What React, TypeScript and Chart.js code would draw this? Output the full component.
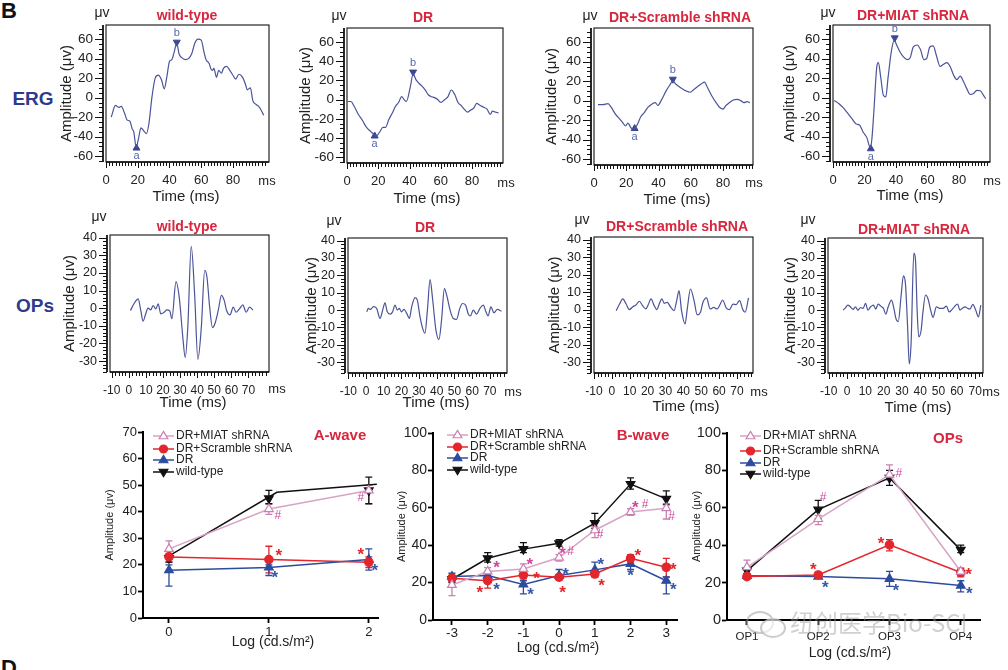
import React, { useEffect, useRef } from "react";
import { Chart, registerables } from "chart.js";

Chart.register(...registerables);
const FONT = "'Liberation Sans', Arial, Helvetica, sans-serif";
Chart.defaults.font.family = FONT;
Chart.defaults.color = "#222";

// ---------------- ERG traces: [time (ms), amplitude (µV)] ----------------
const ergWildType = [[3.3,-20],[6,-8],[8,-10],[9.6,-9],[11.7,-16],[13.3,-23],[15,-24],[16.5,-32],[17.5,-35],[19,-51],[20.6,-41],[22,-31],[23.8,-34],[25.4,-37],[27,-27],[29,1],[31,20],[33,23],[35,18],[36.7,9],[38.3,21],[40,37],[41.5,39],[43,47],[44.6,56],[46,45],[47.7,41],[50,39],[52,40],[54,45],[56,56],[58,60],[60,59],[61.7,47],[63,39],[65,35],[66,30],[67,28],[68,30],[69.6,21],[71,28],[72.7,25],[74,30],[76,32],[78,28],[80,23],[81.7,19],[83.7,24],[86,21],[88,13],[89,8],[91,10],[92.5,-3],[94.6,-7],[96.7,-10],[99.4,-18]];
const ergDR = [[0.6,-2],[2.5,-2],[4.6,-7],[7.3,-15.5],[10,-22],[12.5,-29],[15,-33],[17,-36],[18.75,-38],[20.8,-34],[23,-29],[24.6,-29],[26.7,-21],[29,-14],[31,-7],[33,-3],[35,3],[36.5,0],[38,-2],[40.6,14],[42.3,27],[44,21],[46,17],[48,14],[50,10],[52,5],[54,3],[56,2],[58,0],[60,-3],[62.5,0],[64.6,3],[66.7,10],[69,5],[71,-3],[73,-6],[75,-10],[77,-13],[79,-11],[81,-9],[83,-4],[85,-6],[87.5,-8],[89.6,-10],[91.7,-15.5],[93,-12],[95,-13],[97,-14]];
const ergScramble = [[2.5,-4],[5.6,-4],[8.7,-3],[10.7,-7],[13.4,-14],[16,-19],[18,-23],[19.6,-26],[21,-23],[23,-28],[24.7,-29],[27,-24],[29,-16.5],[31.3,-12],[33.4,-7],[36,-3.5],[38,-2],[39.6,-5],[41.6,0],[44.7,10],[46.8,15.5],[48.9,20],[51,16.5],[54,13],[57,10],[59.6,8.6],[61.6,11],[64.3,14.5],[66.4,17],[68.5,19],[70.5,13],[73,5],[75.7,-2],[78,-7],[80,-8.6],[81.8,-5],[84,-2],[86.4,0.7],[89,1.4],[91,0],[93,-2],[95,-1],[96.7,-2]];
const ergMiat = [[0.8,-3],[3.6,-6],[6.3,-10],[9.3,-16],[12,-21.5],[14.7,-27],[16.8,-28],[19,-35],[21.5,-41],[23.6,-51],[24.6,-44],[26,-13],[27.8,31.5],[28.8,36],[30.3,21],[32,2.4],[33.5,0.7],[35,21],[37,47],[38.9,59],[40.4,54],[42.5,47],[44.6,42],[47,39],[49,41],[51,52],[53.5,54],[55.6,49],[57.7,39],[59.4,40],[61.5,52],[63.6,53],[65.7,43],[68,32],[70,34],[72.4,36],[74.5,31.5],[76.6,23],[78.7,18.5],[80.8,22],[83,16],[85,9],[87,3.4],[89,4],[91.4,7.5],[93.5,7],[95.6,2.4],[97,-1]];

// a-wave / b-wave marker positions [time, amplitude]
const ergWildTypeAB = [[19.2,-51.7],[44.6,56.9]];
const ergDRAB = [[17.7,-37.9],[42.3,28.6]];
const ergScrambleAB = [[25.2,-28.6],[48.9,22]];
const ergMiatAB = [[24,-52.4],[39.2,61.3]];

// ---------------- OP traces ----------------
const opWildType = [[1,-1.3],[3,2.5],[5.5,5.3],[7,-1.3],[8.3,-7.4],[9.9,-3.2],[11.2,0],[12.8,-1],[14.2,1.5],[15.8,-0.4],[17.2,2.5],[18.7,-3.2],[20.7,-2.3],[22.3,-1],[24,-1.7],[25.2,-6],[27.6,15],[29.6,5.3],[31.6,-16.6],[33,-28],[34.5,-11],[36.5,35],[38.5,8],[40.4,-29],[42.4,-11],[44.4,21.5],[45.7,17.7],[47.3,0.6],[48.9,-11],[50.3,-9],[52.3,-1.3],[54.2,7.3],[55.8,4.4],[57.2,-1.3],[59.2,-3.8],[61.1,0.6],[62.7,-2.3],[64.7,-0.4],[66.7,1.9],[68.6,-2.3],[70.6,0.6],[72.6,-1]];
const opDR = [[0.4,-1],[1.3,1],[2.6,0.4],[4.1,2],[6,1],[7.9,-4.8],[9.4,0],[10.7,4.2],[12,-1],[13.6,-2.3],[15,-1],[16.4,2.9],[17.7,0],[18.8,1],[20,-1],[21.5,0.4],[23,-1.9],[24.5,-4.8],[25.8,1.9],[27.7,7.2],[29,5.7],[30.5,-3.8],[32,-10.5],[33.3,-13.3],[34.7,0],[36.2,17.5],[37.7,5.7],[39.5,-11.4],[41.2,-17],[42.7,-5.7],[44.3,12.4],[45.6,8.6],[47.5,0],[49.3,-4.8],[51.2,-5.3],[53,1],[54.6,3.8],[56.3,2.9],[57.8,-2.3],[59,-3.4],[60.6,0],[62.5,-2.3],[64.4,1],[66.3,2.9],[67.8,-1],[69,-3.4],[70.6,1.9],[72.3,-1.5],[74.2,0.4],[76.6,-0.6]];
const opScramble = [[2.4,-0.6],[4.3,3.2],[6.1,6.1],[8,3.2],[9.8,0],[11.7,1.7],[13.5,2.7],[15.4,4.8],[17.2,2.3],[19,0.4],[20.4,2.9],[21.9,6.1],[23.7,2.3],[25.2,0],[26.5,3.2],[28,6.1],[29.3,3.6],[31,4.2],[33,1.3],[34.8,-0.6],[36.3,5.2],[37.6,10.9],[39,-0.6],[41,-8.2],[42.2,0.4],[44,11.8],[46,5.2],[47.8,-3],[49.6,-1.5],[51,4.2],[53,6.7],[55,0.4],[57,1.3],[58.9,0.4],[60.7,3.2],[62,5.5],[64,1],[65.9,0],[67.8,3.2],[69.6,2.9],[71.5,5.2],[73.3,0],[74.6,-1.5],[76.5,6.7]];
const opMiat = [[-2.2,0],[-0.9,1.3],[0.4,2.9],[1.8,1.9],[3.3,0.4],[4.6,1.9],[5.9,0],[7.4,1.5],[8.8,1],[10.1,3.9],[11.4,0],[12.9,1.9],[14.4,2.9],[15.7,0.6],[17,3.5],[18.4,2.3],[19.9,1],[21.2,-2.3],[22.5,1.9],[24.3,5.8],[25.8,0],[26.7,-4.8],[28,-6.7],[29.5,7.7],[30.8,19.7],[31.9,15.4],[33.1,-9.6],[34,-31],[35,-19],[36.5,32.8],[37.4,28.9],[38.3,0],[39.2,-15.4],[40.5,-11.6],[41.4,-1.9],[42.9,8.7],[44.2,6.7],[45.7,0],[47,-4.2],[48.8,1.9],[50.6,1],[52.5,1],[54.3,2.3],[55.8,-1],[57.1,0],[58.6,1.9],[60.4,3.5],[61.7,0],[63,1],[64.5,1.9],[65.9,1],[67.2,0.6],[68.7,3.3],[70.3,0],[71.8,-3.9],[73.1,2.9]];

// ---------------- Summary: A-wave ----------------
const aWaveX = [0, 1, 2];
const aWaveMiat = [26, 41, 48];
const aWaveMiatHi = [29, 43, 50];
const aWaveMiatLo = [23, 39, 43];
const aWaveScr = [23, 22, 21];
const aWaveScrHi = [25, 27, 23];
const aWaveScrLo = [21, 17, 19];
const aWaveDR = [18, 19, 22];
const aWaveDRHi = [20, 20, 26];
const aWaveDRLo = [12, 16, 18];
const aWaveWT = [22.5, 45, 48];
const aWaveWTHi = [24, 48, 53];
const aWaveWTLo = [21, 43, 43];
const aWaveWTLineX = [0.03, 1.08, 2.08];
const aWaveWTLineY = [24, 47.3, 50.3];

// ---------------- Summary: B-wave ----------------
const bWaveX = [-3, -2, -1, 0, 1, 2, 3];
const bWaveMiat = [18.75, 26, 27.3, 33.4, 48, 57.7, 59.8];
const bWaveMiatHi = [20.5, 28, 30, 35, 50, 59.5, 61.5];
const bWaveMiatLo = [13, 24, 25.5, 31.5, 44, 56, 54];
const bWaveScr = [22.3, 21, 24, 22.9, 24.6, 33, 28.2];
const bWaveScrHi = [24, 23, 26, 24, 26, 35, 33];
const bWaveScrLo = [20.5, 17, 22, 21.5, 23, 31, 23];
const bWaveDR = [23.2, 23.75, 19, 23.75, 26.8, 30, 21];
const bWaveDRHi = [25, 26, 21, 27, 31, 32, 23];
const bWaveDRLo = [21.5, 21.5, 14, 22, 25, 27, 14];
const bWaveWT = [21.8, 33, 37.9, 41, 51.8, 72.7, 64.8];
const bWaveWTHi = [23.5, 36, 41.4, 43, 57, 76, 69];
const bWaveWTLo = [20, 31, 36, 39.5, 49, 70, 62];

// ---------------- Summary: OPs ----------------
const opsX = [1, 2, 3, 4];
const opsLabels = ["OP1", "OP2", "OP3", "OP4"];
const opsMiat = [28.2, 54, 77.7, 25.9];
const opsMiatHi = [32, 56, 83, 28];
const opsMiatLo = [25, 51, 75, 23];
const opsScr = [23.2, 24.1, 40.2, 25.4];
const opsScrHi = [24.5, 25.5, 43, 27.5];
const opsScrLo = [22, 23, 37, 23.5];
const opsDR = [23.6, 23.2, 22, 18.4];
const opsDRHi = [24.5, 24, 26, 21];
const opsDRLo = [22.5, 22.5, 18, 15];
const opsWT = [26.4, 59, 76, 37.5];
const opsWTHi = [28, 64, 80, 40];
const opsWTLo = [24.5, 54, 72, 36];

// significance marks: [x, y (glyph centre), text, colour key]
const aWaveMarks = [[1.09,38.8,"#","p"],[1.92,45.5,"#","p"],[1.1,25,"*","r"],[1.92,25.3,"*","r"],[1.06,16.7,"*","b"],[2.06,19.5,"*","b"]];
const bWaveMarks = [[-1.75,30.4,"*","p"],[-2.22,17,"*","r"],[-1.75,18.75,"*","b"],[-0.82,32.1,"*","p"],[-0.63,24.6,"*","r"],[-0.8,16.1,"*","b"],[0.1,37.9,"*","p"],[0.32,37.1,"#","p"],[0.18,26.4,"*","b"],[0.1,17,"*","r"],[1.15,46.4,"#","p"],[1.17,31.8,"*","b"],[1.19,20.5,"*","r"],[2.13,62.5,"*","p"],[2.41,62.1,"#","p"],[2.2,37,"*","r"],[2.0,25.9,"*","b"],[3.15,55.7,"#","p"],[3.2,29.1,"*","r"],[3.2,18.75,"*","b"]];
const opsMarks = [[2.07,66,"#","p"],[1.93,29.1,"*","r"],[2.1,19.6,"*","b"],[3.13,78.9,"#","p"],[2.88,42.9,"*","r"],[3.09,17.9,"*","b"],[4.11,26.4,"*","r"],[4.12,16.4,"*","b"]];

const legendLabels = ["DR+MIAT shRNA", "DR+Scramble shRNA", "DR", "wild-type"];

// ---------------- styles ----------------
const TRACE_COLOR = "#4b5499";
const AB_COLOR = "#3a4793";
const TITLE_RED = "#d7263d";
const ROW_BLUE = "#2e3a8c";
const TEXT = "#222";
const MARK_COLORS: any = { p: "#d0479a", r: "#e3262b", b: "#3557a8" };
const STYLES = [
  { line: "#d9a3c6", kind: "tri", fill: "#ffffff", stroke: "#cc80b2" },
  { line: "#e3262b", kind: "circle", fill: "#e3262b", stroke: "#e3262b" },
  { line: "#2e4c9e", kind: "tri", fill: "#2e4c9e", stroke: "#2e4c9e" },
  { line: "#111111", kind: "triDown", fill: "#111111", stroke: "#111111" },
];

// ---------------- helpers ----------------
function rangeTicks(min: number, max: number, step: number) {
  const out: any[] = [];
  const s = Math.ceil(min / step - 1e-9);
  const e = Math.floor(max / step + 1e-9);
  for (let i = s; i <= e; i++) out.push({ value: +(i * step).toFixed(6) });
  return out;
}
const isMult = (v: number, m: number) => Math.abs(v / m - Math.round(v / m)) < 1e-6;

function drawMarker(ctx: any, kind: string, x: number, y: number, r: number, fill: string, stroke: string, lw: number) {
  ctx.beginPath();
  if (kind === "circle") ctx.arc(x, y, r, 0, Math.PI * 2);
  else {
    const s = kind === "triDown" ? -1 : 1;
    ctx.moveTo(x, y - s * r);
    ctx.lineTo(x + r * 0.95, y + s * r * 0.6);
    ctx.lineTo(x - r * 0.95, y + s * r * 0.6);
    ctx.closePath();
  }
  ctx.fillStyle = fill;
  ctx.fill();
  ctx.lineWidth = lw;
  ctx.strokeStyle = stroke;
  ctx.stroke();
}

function txt(ctx: any, t: string, x: number, y: number, font: string, color: string, align = "center", base = "middle") {
  ctx.font = font;
  ctx.fillStyle = color;
  ctx.textAlign = align;
  ctx.textBaseline = base;
  ctx.fillText(t, x, y);
}

function layoutFor(cv: any, area: any, ampX: number, ampLH: number) {
  const padL = ampX - ampLH / 2 - cv.x;
  const yW = area.l - cv.x - padL;
  const xH = cv.y + cv.h - area.b;
  return {
    padding: { left: padL, right: cv.x + cv.w - area.r, top: area.t - cv.y, bottom: 0 },
    yW,
    xH,
  };
}

// ---------------- trace panels ----------------
const ERG_G = { xMajor: 20, xMinor: 2, xTickMin: 0, xTickMax: 100, xLabelMin: 0, xLabelMax: 80, yMajor: 20, yMinor: 5, yLabelMin: -60, yLabelMax: 60, yMin: -66, yMax: 74.5, xFont: 13, yFont: 13.5, xPad: 11, yPad: 13 };
const OP_G = { xMajor: 10, xMinor: 2, xTickMin: -10, xTickMax: 80, xLabelMin: -10, xLabelMax: 70, yMajor: 10, yMinor: 2, yLabelMin: -30, yLabelMax: 40, yMin: -36.2, yMax: 41.5, xFont: 12, yFont: 12.5, xPad: 11, yPad: 13 };

const ergPanels = [
  { title: "wild-type", trace: ergWildType, ab: ergWildTypeAB, cv: { x: 50, y: 0, w: 230, h: 210 }, area: { l: 106, t: 25, r: 269, b: 162 }, xMin: 0, xMax: 102.7, ampX: 67, timePos: [186, 197], titlePos: [187, 16], muPos: [102, 13], msPos: [267, 181] },
  { title: "DR", trace: ergDR, ab: ergDRAB, cv: { x: 290, y: 0, w: 232, h: 212 }, area: { l: 347, t: 28, r: 503, b: 163 }, xMin: 0, xMax: 99.8, ampX: 306, timePos: [427, 199], titlePos: [423, 18], muPos: [339, 16], msPos: [506, 183] },
  { title: "DR+Scramble shRNA", trace: ergScramble, ab: ergScrambleAB, cv: { x: 535, y: 0, w: 235, h: 212 }, area: { l: 594, t: 28, r: 753, b: 165 }, xMin: 0, xMax: 98.6, ampX: 552, timePos: [677, 200], titlePos: [680, 18], muPos: [590, 16], msPos: [754, 183] },
  { title: "DR+MIAT shRNA", trace: ergMiat, ab: ergMiatAB, cv: { x: 775, y: 0, w: 233, h: 212 }, area: { l: 833, t: 25, r: 990, b: 162 }, xMin: 0, xMax: 99.7, ampX: 790, timePos: [910, 196], titlePos: [913, 16], muPos: [828, 13], msPos: [992, 181] },
];
const opPanels = [
  { title: "wild-type", trace: opWildType, cv: { x: 50, y: 212, w: 240, h: 203 }, area: { l: 110, t: 235, r: 269, b: 372 }, xMin: -11, xMax: 82, ampX: 70, timePos: [193, 403], titlePos: [187, 227], muPos: [99, 217], msPos: [277, 389] },
  { title: "DR", trace: opDR, cv: { x: 290, y: 212, w: 235, h: 203 }, area: { l: 348, t: 238, r: 507, b: 373 }, xMin: -10.2, xMax: 79.7, ampX: 312, timePos: [436, 403], titlePos: [425, 228], muPos: [334, 221], msPos: [513, 392] },
  { title: "DR+Scramble shRNA", trace: opScramble, cv: { x: 535, y: 212, w: 235, h: 208 }, area: { l: 594, t: 237, r: 753, b: 373 }, xMin: -10, xMax: 79, ampX: 555, timePos: [686, 407], titlePos: [677, 227], muPos: [582, 220], msPos: [759, 392] },
  { title: "DR+MIAT shRNA", trace: opMiat, cv: { x: 775, y: 212, w: 233, h: 208 }, area: { l: 828, t: 238, r: 983, b: 373 }, xMin: -10.4, xMax: 74.3, ampX: 791, timePos: [918, 408], titlePos: [914, 230], muPos: [808, 220], msPos: [991, 392] },
];

function traceConfig(p: any, g: any) {
  const L = layoutFor(p.cv, p.area, p.ampX, 18);
  const xLab = (v: number) => isMult(v, g.xMajor) && v >= g.xLabelMin - 1e-9 && v <= g.xLabelMax + 1e-9;
  const yLab = (v: number) => isMult(v, g.yMajor) && v >= g.yLabelMin - 1e-9 && v <= g.yLabelMax + 1e-9;
  const datasets: any[] = [
    { data: p.trace.map((d: number[]) => ({ x: d[0], y: d[1] })), borderColor: TRACE_COLOR, borderWidth: 1.2, pointRadius: 0, cubicInterpolationMode: "monotone", fill: false },
  ];
  if (p.ab) {
    datasets.push({ data: [{ x: p.ab[0][0], y: p.ab[0][1] }], showLine: false, pointStyle: "triangle", pointRotation: 0, pointRadius: 4, pointBackgroundColor: AB_COLOR, pointBorderColor: AB_COLOR });
    datasets.push({ data: [{ x: p.ab[1][0], y: p.ab[1][1] }], showLine: false, pointStyle: "triangle", pointRotation: 180, pointRadius: 4, pointBackgroundColor: AB_COLOR, pointBorderColor: AB_COLOR });
  }
  const plugin = {
    id: "tracePanel",
    afterDraw(chart: any) {
      const { ctx, chartArea: a, scales } = chart;
      const xs = scales.x, ys = scales.y;
      ctx.save();
      ctx.strokeStyle = "#111";
      ctx.lineWidth = 1.1;
      ctx.strokeRect(a.left, a.top, a.right - a.left, a.bottom - a.top);
      const sx = a.left - 3;
      ctx.lineWidth = 1.8;
      ctx.beginPath(); ctx.moveTo(sx, a.top); ctx.lineTo(sx, a.bottom); ctx.stroke();
      ctx.lineWidth = 1.5;
      ctx.beginPath(); ctx.moveTo(a.left, a.bottom); ctx.lineTo(a.right, a.bottom); ctx.stroke();
      ctx.lineWidth = 1;
      ctx.beginPath();
      for (const t of ys.ticks) {
        const py = Math.round(ys.getPixelForValue(t.value)) + 0.5;
        const len = yLab(t.value) ? 8 : 4;
        ctx.moveTo(sx - len, py); ctx.lineTo(sx, py);
      }
      for (const t of xs.ticks) {
        const px = Math.round(xs.getPixelForValue(t.value)) + 0.5;
        const len = xLab(t.value) ? 6 : 4;
        ctx.moveTo(px, a.bottom); ctx.lineTo(px, a.bottom + len);
      }
      ctx.stroke();
      const ox = p.cv.x, oy = p.cv.y;
      txt(ctx, p.title, p.titlePos[0] - ox, p.titlePos[1] - oy, `bold 14px ${FONT}`, TITLE_RED);
      txt(ctx, "μv", p.muPos[0] - ox, p.muPos[1] - oy, `14px ${FONT}`, TEXT);
      txt(ctx, "ms", p.msPos[0] - ox, p.msPos[1] - oy, `13px ${FONT}`, TEXT);
      txt(ctx, "Time (ms)", p.timePos[0] - ox, p.timePos[1] - oy, `15px ${FONT}`, TEXT);
      if (p.ab) {
        const ma = chart.getDatasetMeta(1).data[0];
        const mb = chart.getDatasetMeta(2).data[0];
        txt(ctx, "a", ma.x, ma.y + 8, `11px ${FONT}`, "#5b67ad");
        txt(ctx, "b", mb.x, mb.y - 9, `11px ${FONT}`, "#5b67ad");
      }
      ctx.restore();
    },
  };
  return {
    type: "line",
    data: { datasets },
    options: {
      animation: false, responsive: false, maintainAspectRatio: false, devicePixelRatio: 1, events: [],
      layout: { padding: L.padding },
      plugins: { legend: { display: false }, tooltip: { enabled: false }, title: { display: false } },
      scales: {
        x: {
          type: "linear", min: p.xMin, max: p.xMax,
          afterBuildTicks: (s: any) => { s.ticks = rangeTicks(Math.max(p.xMin, g.xTickMin), Math.min(p.xMax, g.xTickMax), g.xMinor); },
          afterFit: (s: any) => { s.height = L.xH; },
          ticks: { autoSkip: false, maxRotation: 0, padding: g.xPad, font: { size: g.xFont }, color: TEXT, callback: (v: number) => (xLab(v) ? String(v) : "") },
          grid: { display: true, drawOnChartArea: false, drawTicks: false },
          border: { display: false },
          title: { display: false },
        },
        y: {
          type: "linear", min: g.yMin, max: g.yMax,
          afterBuildTicks: (s: any) => { s.ticks = rangeTicks(g.yMin, g.yMax, g.yMinor); },
          afterFit: (s: any) => { s.width = L.yW; },
          ticks: { autoSkip: false, padding: g.yPad, font: { size: g.yFont }, color: TEXT, callback: (v: number) => (yLab(v) ? String(v) : "") },
          grid: { display: true, drawOnChartArea: false, drawTicks: false },
          border: { display: false },
          title: { display: true, text: "Amplitude (μv)", font: { size: 15 }, color: TEXT, padding: 0 },
        },
      },
    },
    plugins: [plugin],
  };
}

// ---------------- summary panels ----------------
const summaryPanels = [
  {
    key: "a", title: "A-wave", titlePos: [340, 436], cv: { x: 95, y: 420, w: 290, h: 240 }, area: { l: 143, t: 432, r: 379, b: 618 },
    ampX: 110, xTitlePos: [273, 642], xMin: -0.26, xMax: 2.1, xTicks: aWaveX, xLabels: null as any, yMax: 70, yStep: 10, yFont: 13, xFont: 13, xPad: 1.5,
    legendX: 153, legendRows: [436, 449, 460, 472], x: aWaveX,
    series: [[aWaveMiat, aWaveMiatHi, aWaveMiatLo], [aWaveScr, aWaveScrHi, aWaveScrLo], [aWaveDR, aWaveDRHi, aWaveDRLo], [aWaveWT, aWaveWTHi, aWaveWTLo]],
    wtLine: [aWaveWTLineX, aWaveWTLineY], marks: aWaveMarks,
  },
  {
    key: "b", title: "B-wave", titlePos: [643, 436], cv: { x: 385, y: 420, w: 300, h: 245 }, area: { l: 433, t: 433, r: 677, b: 620 },
    ampX: 402, xTitlePos: [558, 648], xMin: -3.53, xMax: 3.3, xTicks: bWaveX, xLabels: null as any, yMax: 100, yStep: 20, yFont: 14, xFont: 13.5, xPad: 0.5,
    legendX: 447, legendRows: [435, 447, 458, 470], x: bWaveX,
    series: [[bWaveMiat, bWaveMiatHi, bWaveMiatLo], [bWaveScr, bWaveScrHi, bWaveScrLo], [bWaveDR, bWaveDRHi, bWaveDRLo], [bWaveWT, bWaveWTHi, bWaveWTLo]],
    wtLine: null as any, marks: bWaveMarks,
  },
  {
    key: "o", title: "OPs", titlePos: [948, 439], cv: { x: 688, y: 420, w: 318, h: 250 }, area: { l: 727, t: 433, r: 980, b: 620 },
    ampX: 697, xTitlePos: [850, 653], xMin: 0.72, xMax: 4.27, xTicks: opsX, xLabels: opsLabels, yMax: 100, yStep: 20, yFont: 14.5, xFont: 11.5, xPad: 5,
    legendX: 740, legendRows: [436, 451, 463, 474], x: opsX,
    series: [[opsMiat, opsMiatHi, opsMiatLo], [opsScr, opsScrHi, opsScrLo], [opsDR, opsDRHi, opsDRLo], [opsWT, opsWTHi, opsWTLo]],
    wtLine: null as any, marks: opsMarks,
  },
];

function summaryConfig(p: any) {
  const L = layoutFor(p.cv, p.area, p.ampX, 13.2);
  const datasets: any[] = p.series.map((s: any, i: number) => {
    const st = STYLES[i];
    const hideLine = i === 3 && p.wtLine;
    return {
      label: legendLabels[i],
      data: p.x.map((v: number, k: number) => ({ x: v, y: s[0][k] })),
      showLine: !hideLine,
      borderColor: st.line, borderWidth: 1.5, tension: 0,
      pointStyle: st.kind === "circle" ? "circle" : "triangle",
      pointRotation: st.kind === "triDown" ? 180 : 0,
      pointRadius: st.kind === "circle" ? 4.2 : 5,
      pointBackgroundColor: st.fill, pointBorderColor: st.stroke, pointBorderWidth: 1.2,
      clip: false,
    };
  });
  if (p.wtLine) {
    datasets.push({
      label: "wild-type line",
      data: p.wtLine[0].map((v: number, k: number) => ({ x: v, y: p.wtLine[1][k] })),
      borderColor: STYLES[3].line, borderWidth: 1.5, pointRadius: 0, tension: 0, clip: false,
    });
  }
  const plugin = {
    id: "summaryPanel",
    beforeDatasetsDraw(chart: any) {
      const { ctx, scales } = chart;
      const xs = scales.x, ys = scales.y;
      ctx.save();
      p.series.forEach((s: any, i: number) => {
        ctx.strokeStyle = STYLES[i].stroke;
        ctx.lineWidth = 1.3;
        ctx.beginPath();
        p.x.forEach((v: number, k: number) => {
          const px = xs.getPixelForValue(v);
          const hi = ys.getPixelForValue(s[1][k]);
          const lo = ys.getPixelForValue(s[2][k]);
          ctx.moveTo(px, hi); ctx.lineTo(px, lo);
          ctx.moveTo(px - 3.5, hi); ctx.lineTo(px + 3.5, hi);
          ctx.moveTo(px - 3.5, lo); ctx.lineTo(px + 3.5, lo);
        });
        ctx.stroke();
      });
      ctx.restore();
    },
    afterDraw(chart: any) {
      const { ctx, scales } = chart;
      const xs = scales.x, ys = scales.y;
      const ox = p.cv.x, oy = p.cv.y;
      ctx.save();
      for (const m of p.marks) {
        const px = xs.getPixelForValue(m[0]);
        const py = ys.getPixelForValue(m[1]);
        if (m[2] === "*") txt(ctx, "*", px, py + 0.57 * 17, `bold 17px ${FONT}`, MARK_COLORS[m[3]], "center", "alphabetic");
        else txt(ctx, "#", px, py + 0.36 * 12, `12px ${FONT}`, MARK_COLORS[m[3]], "center", "alphabetic");
      }
      // legend
      legendLabels.forEach((lab, i) => {
        const st = STYLES[i];
        const lx = p.legendX - ox;
        const ly = p.legendRows[i] - oy;
        ctx.strokeStyle = st.line; ctx.lineWidth = 1.5;
        ctx.beginPath(); ctx.moveTo(lx, ly); ctx.lineTo(lx + 21, ly); ctx.stroke();
        drawMarker(ctx, st.kind, lx + 10.5, ly, st.kind === "circle" ? 4 : 4.6, st.fill, st.stroke, 1.2);
        txt(ctx, lab, lx + 23, ly, `12px ${FONT}`, TEXT, "left", "middle");
      });
      txt(ctx, p.title, p.titlePos[0] - ox, p.titlePos[1] - oy, `bold 15px ${FONT}`, TITLE_RED);
      txt(ctx, "Log (cd.s/m²)", p.xTitlePos[0] - ox, p.xTitlePos[1] - oy, `14px ${FONT}`, TEXT);
      ctx.restore();
    },
  };
  return {
    type: "line",
    data: { datasets },
    options: {
      animation: false, responsive: false, maintainAspectRatio: false, devicePixelRatio: 1, events: [],
      layout: { padding: L.padding },
      plugins: { legend: { display: false }, tooltip: { enabled: false }, title: { display: false } },
      scales: {
        x: {
          type: "linear", min: p.xMin, max: p.xMax,
          afterBuildTicks: (s: any) => { s.ticks = p.xTicks.map((v: number) => ({ value: v })); },
          afterFit: (s: any) => { s.height = L.xH; },
          ticks: { autoSkip: false, maxRotation: 0, padding: p.xPad, font: { size: p.xFont }, color: TEXT,
            callback: (v: number) => (p.xLabels ? p.xLabels[p.xTicks.indexOf(v)] : String(v)) },
          grid: { display: true, drawOnChartArea: false, drawTicks: true, tickLength: 5, tickColor: "#000", tickWidth: 1.8 },
          border: { display: true, color: "#000", width: 2 },
          title: { display: false },
        },
        y: {
          type: "linear", min: 0, max: p.yMax,
          afterBuildTicks: (s: any) => { s.ticks = rangeTicks(0, p.yMax, p.yStep); },
          afterFit: (s: any) => { s.width = L.yW; },
          ticks: { autoSkip: false, padding: 1, font: { size: p.yFont }, color: TEXT },
          grid: { display: true, drawOnChartArea: false, drawTicks: true, tickLength: 5, tickColor: "#000", tickWidth: 1.8 },
          border: { display: true, color: "#000", width: 2 },
          title: { display: true, text: "Amplitude (μv)", font: { size: 11 }, color: TEXT, padding: 0 },
        },
      },
    },
    plugins: [plugin],
  };
}

// ---------------- components ----------------
function ChartBox({ cv, make }: { cv: any; make: () => any }) {
  const ref = useRef<HTMLCanvasElement>(null);
  useEffect(() => {
    const chart = new Chart(ref.current as HTMLCanvasElement, make());
    return () => chart.destroy();
  }, []);
  return (
    <canvas ref={ref} width={cv.w} height={cv.h}
      style={{ position: "absolute", left: cv.x, top: cv.y, width: cv.w, height: cv.h }} />
  );
}

const labelStyle = (left: number, top: number, size: number, color: string, width = 70): any => ({
  position: "absolute", left, top, width, textAlign: "center", fontFamily: FONT, fontWeight: "bold",
  fontSize: size, lineHeight: `${size}px`, color, whiteSpace: "nowrap",
});

export default function App() {
  return (
    <div style={{ position: "fixed", left: 0, top: 0, width: 1008, height: 670, background: "#fff", overflow: "hidden", fontFamily: FONT }}>
      <div style={{ position: "absolute", left: 1, top: 0, fontFamily: FONT, fontWeight: "bold", fontSize: 22, lineHeight: "22px", color: "#111" }}>B</div>
      <div style={{ position: "absolute", left: 1, top: 657, fontFamily: FONT, fontWeight: "bold", fontSize: 22, lineHeight: "22px", color: "#111" }}>D</div>
      <div style={labelStyle(-2, 89, 19, ROW_BLUE)}>ERG</div>
      <div style={labelStyle(0, 296, 19, ROW_BLUE)}>OPs</div>
      {ergPanels.map((p, i) => (
        <ChartBox key={"erg" + i} cv={p.cv} make={() => traceConfig(p, ERG_G)} />
      ))}
      {opPanels.map((p, i) => (
        <ChartBox key={"op" + i} cv={p.cv} make={() => traceConfig(p, OP_G)} />
      ))}
      {summaryPanels.map((p) => (
        <ChartBox key={p.key} cv={p.cv} make={() => summaryConfig(p)} />
      ))}
      <div style={{ position: "absolute", left: 746, top: 609, width: 40, height: 26, pointerEvents: "none" }}>
        <div style={{ position: "absolute", left: 0, top: 2, width: 24, height: 19, borderRadius: "50%", border: "2px solid rgba(160,160,160,0.55)" }} />
        <div style={{ position: "absolute", left: 14, top: 9, width: 22, height: 16, borderRadius: "50%", border: "2px solid rgba(160,160,160,0.55)", background: "rgba(255,255,255,0.6)" }} />
      </div>
      <div style={{ position: "absolute", left: 790, top: 607, fontFamily: "'Noto Sans CJK SC', 'Noto Sans', sans-serif", fontSize: 24, lineHeight: "30px", color: "rgba(150,150,150,0.45)", whiteSpace: "nowrap", pointerEvents: "none" }}>
        纽创医学Bio-SCI
      </div>
    </div>
  );
}
